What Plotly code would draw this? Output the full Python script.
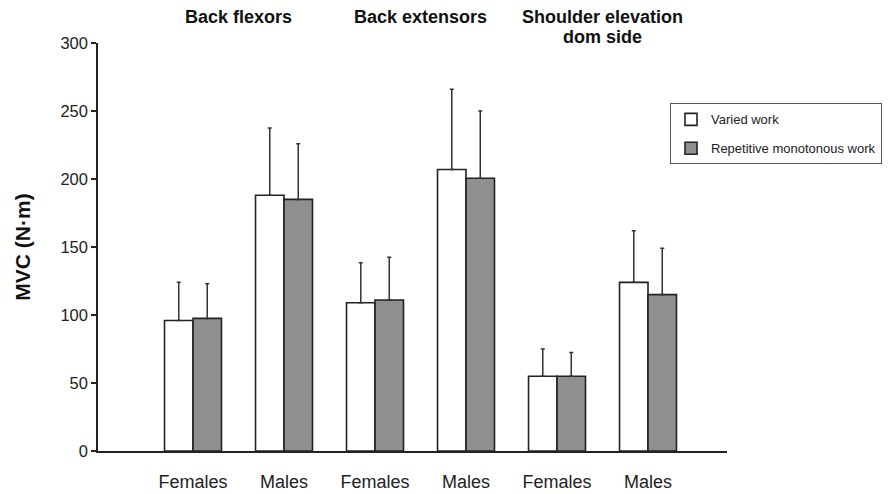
import plotly.graph_objects as go

categories = ["Females", "Males", "Females", "Males", "Females", "Males"]
muscle_groups = ["Back flexors", "Back extensors", "Shoulder elevation<br>dom side"]
varied_mean = [96, 188, 109, 207, 55, 124]
varied_upper = [124, 237.5, 138.5, 266, 75, 162]
repetitive_mean = [97.5, 185, 111, 200.5, 55, 115]
repetitive_upper = [123, 226, 142.5, 250, 72.5, 149]

x_pos = list(range(len(categories)))
FONT = "Liberation Sans, Arial, sans-serif"
DARK = "#222222"


def err(upper, mean):
    return [u - m for u, m in zip(upper, mean)]


fig = go.Figure()
fig.add_trace(go.Bar(
    x=x_pos, y=varied_mean, name="Varied work", legendgroup="a",
    marker=dict(color="white", line=dict(color=DARK, width=1.6)),
    error_y=dict(type="data", symmetric=False, array=err(varied_upper, varied_mean),
                 arrayminus=[0] * len(varied_mean), color="#333333", thickness=1.5, width=2),
))
fig.add_trace(go.Bar(
    x=x_pos, y=repetitive_mean, name="Repetitive monotonous work", legendgroup="b",
    marker=dict(color="#8f8f8f", line=dict(color=DARK, width=1.6)),
    error_y=dict(type="data", symmetric=False, array=err(repetitive_upper, repetitive_mean),
                 arrayminus=[0] * len(repetitive_mean), color="#333333", thickness=1.5, width=2),
))

for i, g in enumerate(muscle_groups):
    for j, line in enumerate(g.split("<br>")):
        fig.add_annotation(
            x=2 * i + 0.5, xref="x", y=1.0, yref="paper", yanchor="middle",
            yshift=26 - 20 * j,
            text="<b>" + line + "</b>", showarrow=False,
            font=dict(family=FONT, size=18, color="#111111"),
        )

# page body has an 8px margin, so the figure is placed 8px in from the window's corner
fig.update_layout(
    width=883, height=486,
    margin=dict(l=90, r=164, t=35, b=43, autoexpand=False),
    paper_bgcolor="white", plot_bgcolor="white",
    barmode="group", bargap=0.374, bargroupgap=0,
    font=dict(family=FONT, size=16, color=DARK),
    showlegend=True,
    legend=dict(
        x=(670 - 98) / 629, y=0.852, xanchor="left", yanchor="top",
        bordercolor="#555555", borderwidth=1, bgcolor="white",
        font=dict(family=FONT, size=13, color=DARK),
        traceorder="grouped", tracegroupgap=9,
    ),
    xaxis=dict(
        range=[-1.044, 5.868], tickvals=x_pos, ticktext=categories,
        showline=True, linecolor=DARK, linewidth=1.5, ticks="",
        showgrid=False, zeroline=False, ticklabelstandoff=14, automargin=False,
        tickfont=dict(family=FONT, size=18, color=DARK),
    ),
    yaxis=dict(
        range=[0, 300], tickvals=[0, 50, 100, 150, 200, 250, 300],
        showline=True, linecolor=DARK, linewidth=1.5,
        ticks="outside", ticklen=5, tickcolor=DARK, tickwidth=1.5,
        showgrid=False, zeroline=False, automargin=False,
        tickfont=dict(family=FONT, size=16.5, color=DARK),
        title=dict(text="<b>MVC (N·m)</b>", font=dict(family=FONT, size=21, color="#111111"), standoff=24),
    ),
)

fig.write_html("out.html")
